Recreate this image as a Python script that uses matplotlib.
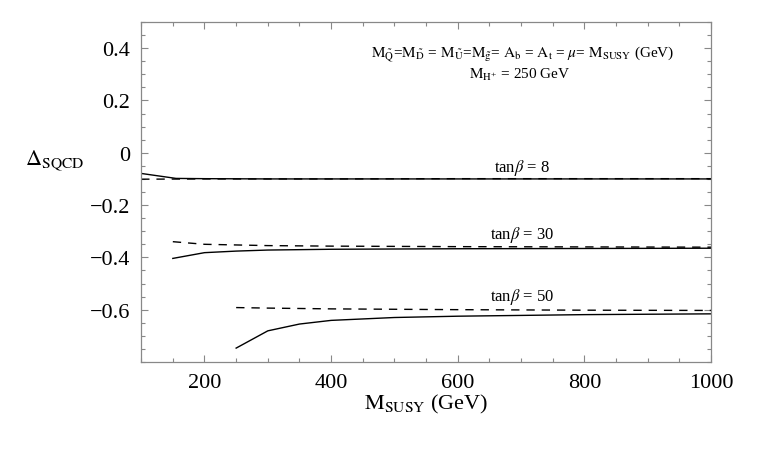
import matplotlib
matplotlib.use("Agg")
import matplotlib.pyplot as plt
from matplotlib.ticker import MultipleLocator

plt.rcParams['font.family'] = ['Liberation Serif', 'DejaVu Serif']
plt.rcParams['mathtext.fontset'] = 'stix'

# tan(beta) = 8
x8_full = [100, 155, 200, 300, 400, 600, 800, 1000]
y8_full = [-0.079, -0.098, -0.099, -0.100, -0.100, -0.100, -0.100, -0.100]
x8_dash = [100, 200, 400, 600, 800, 1000]
y8_dash = [-0.101, -0.100, -0.100, -0.099, -0.099, -0.099]

# tan(beta) = 30
x30_full = [150, 200, 250, 300, 400, 600, 800, 1000]
y30_full = [-0.404, -0.382, -0.376, -0.372, -0.369, -0.367, -0.366, -0.365]
x30_dash = [150, 200, 300, 400, 600, 800, 1000]
y30_dash = [-0.340, -0.350, -0.355, -0.357, -0.359, -0.360, -0.361]

# tan(beta) = 50
x50_full = [250, 300, 350, 400, 500, 600, 800, 1000]
y50_full = [-0.747, -0.681, -0.655, -0.641, -0.630, -0.625, -0.619, -0.616]
x50_dash = [250, 300, 400, 600, 800, 1000]
y50_dash = [-0.592, -0.594, -0.597, -0.600, -0.602, -0.603]

labels = [r'tan$\beta$ = 8', r'tan$\beta$ = 30', r'tan$\beta$ = 50']
label_y = [-0.053, -0.312, -0.549]

fig = plt.figure(figsize=(7.63, 4.52), dpi=100)
ax = fig.add_axes([0.185, 0.197, 0.747, 0.752])

for xs, ys in [(x8_full, y8_full), (x30_full, y30_full), (x50_full, y50_full)]:
    ax.plot(xs, ys, color='black', lw=1.0)
for xs, ys in [(x8_dash, y8_dash), (x30_dash, y30_dash), (x50_dash, y50_dash)]:
    ax.plot(xs, ys, color='black', lw=1.0, dashes=(6, 5))

for lab, ly in zip(labels, label_y):
    ax.text(701, ly, lab, fontsize=12, ha='center', va='center')

ax.text(0.67, 0.906,
        r'$\mathrm{M}_{\tilde{\mathrm{Q}}}$=$\mathrm{M}_{\tilde{\mathrm{D}}}$ = '
        r'$\mathrm{M}_{\tilde{\mathrm{U}}}$=$\mathrm{M}_{\tilde{\mathrm{g}}}$= '
        r'$\mathrm{A}_{\mathrm{b}}$ = $\mathrm{A}_{\mathrm{t}}$ = $\mu$= '
        r'$\mathrm{M}_{\mathrm{SUSY}}$ (GeV)',
        transform=ax.transAxes, fontsize=11, ha='center', va='center')
ax.text(0.665, 0.847, r'$\mathrm{M}_{\mathrm{H^{+}}}$ = 250 GeV',
        transform=ax.transAxes, fontsize=11, ha='center', va='center')

ax.set_xlim(100, 1000)
ax.set_ylim(-0.8, 0.5)
ax.xaxis.set_major_locator(MultipleLocator(200))
ax.xaxis.set_minor_locator(MultipleLocator(50))
ax.yaxis.set_major_locator(MultipleLocator(0.2))
ax.yaxis.set_minor_locator(MultipleLocator(0.05))
ax.set_yticks([0.4, 0.2, 0, -0.2, -0.4, -0.6])
ax.set_yticklabels(['0.4', '0.2', '0', '\u22120.2', '\u22120.4', '\u22120.6'])
ax.set_xticks([200, 400, 600, 800, 1000])
ax.set_xticklabels(['200', '400', '600', '800', '1000'])

ax.tick_params(which='both', direction='in', top=True, right=True,
               color='#888888', labelsize=16, width=0.8)
ax.tick_params(which='major', length=5, pad=8)
ax.tick_params(which='minor', length=3)
for s in ax.spines.values():
    s.set_color('#888888')
    s.set_linewidth(0.9)

ax.set_xlabel(r'$\mathrm{M}_{\mathrm{SUSY}}$ (GeV)', fontsize=16, labelpad=0)
fig.text(0.072, 0.645, r'$\Delta_{\mathrm{SQCD}}$', fontsize=16, ha='center', va='center')

fig.savefig('out.png', dpi=100)
